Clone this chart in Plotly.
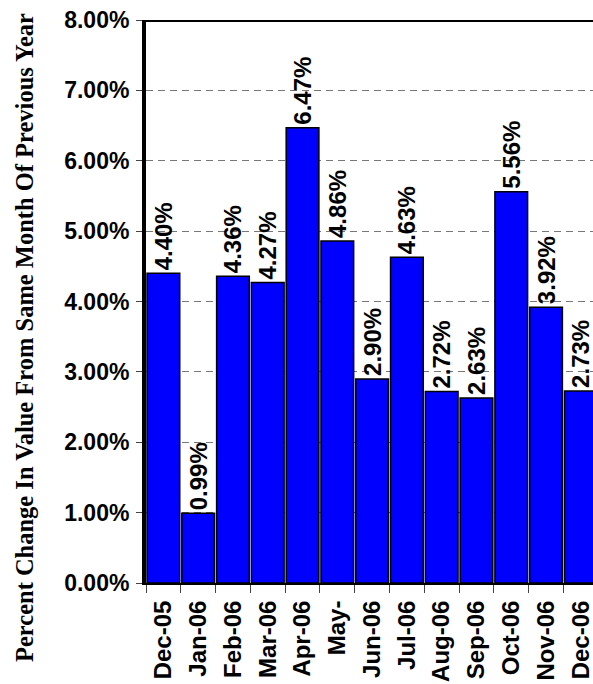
import plotly.graph_objects as go

months = ["Dec-05", "Jan-06", "Feb-06", "Mar-06", "Apr-06", "May-", "Jun-06",
          "Jul-06", "Aug-06", "Sep-06", "Oct-06", "Nov-06", "Dec-06"]
pct_change = [4.40, 0.99, 4.36, 4.27, 6.47, 4.86, 2.90, 4.63, 2.72, 2.63, 5.56, 3.92, 2.73]
y_title = "Percent Change In Value From Same Month Of Previous Year"

W, H = 593, 684
ML, MR, MT, MB = 146, 0, 20, 101
plot_w = W - ML - MR
plot_h = H - MT - MB

sans = "Liberation Sans, Arial, sans-serif"
serif = "Liberation Serif, Times New Roman, serif"

fig = go.Figure()
fig.add_trace(go.Bar(
    x=months,
    y=pct_change,
    marker=dict(color="#0000FF", line=dict(color="black", width=1.5)),
    text=[f"{v:.2f}%" for v in pct_change],
    textposition="outside",
    textangle=-90,
    constraintext="none",
    textfont=dict(family=sans, size=24, color="black", weight="bold"),
    cliponaxis=False,
    showlegend=False,
))

fig.update_layout(
    width=W, height=H,
    margin=dict(l=ML, r=MR, t=MT, b=MB, autoexpand=False),
    plot_bgcolor="white", paper_bgcolor="white",
    bargap=0.06,
    xaxis=dict(
        type="category",
        range=[-0.5, 12.35],
        tickangle=-90,
        tickson="boundaries",
        ticks="outside", ticklen=8, tickcolor="#444", tickwidth=1,
        ticklabelstandoff=6,
        showline=True, linecolor="black", linewidth=2,
        showgrid=False,
        tickfont=dict(family=sans, size=24, color="black", weight="bold"),
        automargin=False,
    ),
    yaxis=dict(
        range=[0, 8],
        dtick=1,
        tickformat=".2f",
        ticksuffix="%",
        ticks="outside", ticklen=6, tickcolor="#444", tickwidth=1,
        ticklabelstandoff=2,
        showline=True, linecolor="black", linewidth=4,
        showgrid=True, gridcolor="#777", griddash="7px,5px", gridwidth=1,
        zeroline=False,
        tickfont=dict(family=sans, size=23, color="black", weight="bold"),
        automargin=False,
    ),
    shapes=[dict(type="line", xref="paper", yref="y", x0=0, x1=1, y0=8, y1=8,
                 line=dict(color="black", width=4))],
    annotations=[dict(
        text=y_title, xref="paper", yref="paper",
        x=(24 - ML) / plot_w, y=(H - MB - 338) / plot_h,
        xanchor="center", yanchor="middle", textangle=-90, showarrow=False,
        font=dict(family=serif, size=24.5, color="black", weight="bold"),
    )],
)

fig.write_html("out.html")
